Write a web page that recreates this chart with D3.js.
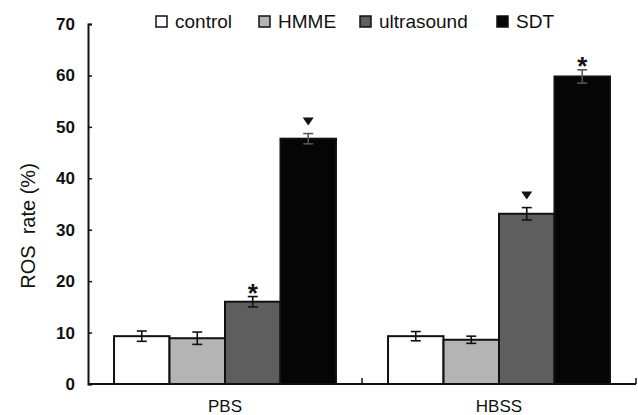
<!DOCTYPE html>
<html>
<head>
<meta charset="utf-8">
<script src="https://cdn.jsdelivr.net/npm/d3@7"></script>
<style>
  body { margin: 0; background: #fff; }
  text { font-family: "Liberation Sans", Arial, sans-serif; fill: #111; }
</style>
</head>
<body>
<div id="chart"></div>
<script>
const groups = ["PBS", "HBSS"];
const seriesNames = ["control", "HMME", "ultrasound", "SDT"];
const seriesColors = ["#ffffff", "#b4b4b4", "#5e5e5e", "#050505"];
const pbsValues = [9.3, 8.9, 16.0, 47.7];
const pbsErrors = [1.0, 1.2, 1.0, 1.0];
const hbssValues = [9.3, 8.6, 33.1, 59.8];
const hbssErrors = [0.9, 0.7, 1.2, 1.3];
const pbsMarks = ["", "", "*", "tri"];
const hbssMarks = ["", "", "tri", "*"];
const yTicks = [0, 10, 20, 30, 40, 50, 60, 70];

const data = groups.map((g, gi) => ({
  group: g,
  items: seriesNames.map((s, si) => ({
    name: s,
    value: gi === 0 ? pbsValues[si] : hbssValues[si],
    err: gi === 0 ? pbsErrors[si] : hbssErrors[si],
    mark: gi === 0 ? pbsMarks[si] : hbssMarks[si],
    color: seriesColors[si]
  }))
}));

const width = 638, height = 415;
const margin = {top: 24, right: 2, bottom: 31, left: 88};

const svg = d3.select("#chart").append("svg")
  .attr("width", width)
  .attr("height", height);

const g = svg.append("g")
  .attr("transform", "translate(" + margin.left + "," + margin.top + ")");

const w = width - margin.left - margin.right;
const h = height - margin.top - margin.bottom;

const x0 = d3.scaleBand().domain(groups).range([0, w]).paddingInner(0.19).paddingOuter(0.095);
const x1 = d3.scaleBand().domain(seriesNames).range([0, x0.bandwidth()]);
const y = d3.scaleLinear().domain([0, 70]).range([h, 0]);

// bars
const grp = g.selectAll(".grp")
  .data(data)
  .enter().append("g")
  .attr("class", "grp")
  .attr("transform", d => "translate(" + x0(d.group) + ",0)");

grp.selectAll("rect")
  .data(d => d.items)
  .enter().append("rect")
  .attr("x", d => x1(d.name))
  .attr("y", d => y(d.value))
  .attr("width", x1.bandwidth())
  .attr("height", d => h - y(d.value))
  .attr("fill", d => d.color)
  .attr("stroke", "#111")
  .attr("stroke-width", 2);

// error bars
const eb = grp.selectAll(".err")
  .data(d => d.items)
  .enter().append("g")
  .attr("class", "err")
  .attr("stroke", d => d.name === "SDT" ? "#555" : "#111")
  .attr("stroke-width", 1.6);

const cx = d => x1(d.name) + x1.bandwidth() / 2;
eb.append("line")
  .attr("x1", cx).attr("x2", cx)
  .attr("y1", d => y(d.value + d.err)).attr("y2", d => y(d.value - d.err));
eb.append("line")
  .attr("x1", d => cx(d) - 5).attr("x2", d => cx(d) + 5)
  .attr("y1", d => y(d.value + d.err)).attr("y2", d => y(d.value + d.err));
eb.append("line")
  .attr("x1", d => cx(d) - 5).attr("x2", d => cx(d) + 5)
  .attr("y1", d => y(d.value - d.err)).attr("y2", d => y(d.value - d.err));

// significance marks
grp.selectAll(".star")
  .data(d => d.items.filter(i => i.mark === "*"))
  .enter().append("text")
  .attr("x", cx)
  .attr("y", d => y(d.value + d.err) + 5)
  .attr("text-anchor", "middle")
  .attr("font-size", 26)
  .style("font-weight", "bold")
  .text("*");

grp.selectAll(".tri")
  .data(d => d.items.filter(i => i.mark === "tri"))
  .enter().append("path")
  .attr("d", d => {
    const c = cx(d), t = y(d.value + d.err) - 16;
    return "M" + (c - 5.5) + "," + t + "L" + (c + 5.5) + "," + t + "L" + c + "," + (t + 8) + "Z";
  })
  .attr("fill", "#111");

// axes
const yAxis = g.append("g")
  .call(d3.axisLeft(y).tickValues(yTicks).tickSize(-4).tickPadding(13));
yAxis.select(".domain").attr("stroke", "#111").attr("stroke-width", 2);
yAxis.selectAll(".tick line").attr("stroke", "#111").attr("stroke-width", 1.5);
yAxis.selectAll("text").attr("font-size", 17).style("font-weight", "bold").attr("fill", "#222");

const xAxis = g.append("g")
  .attr("transform", "translate(0," + h + ")");
xAxis.append("line")
  .attr("x1", 0).attr("x2", w)
  .attr("stroke", "#111").attr("stroke-width", 2);
xAxis.selectAll(".sep")
  .data(groups)
  .enter().append("line")
  .attr("x1", d => x0(d) + x0.bandwidth() + x0.step() * x0.paddingInner() / 2)
  .attr("x2", d => x0(d) + x0.bandwidth() + x0.step() * x0.paddingInner() / 2)
  .attr("y1", 0).attr("y2", -6)
  .attr("stroke", "#111").attr("stroke-width", 1.5);
xAxis.selectAll(".lbl")
  .data(groups)
  .enter().append("text")
  .attr("x", d => x0(d) + x0.bandwidth() / 2)
  .attr("y", 28)
  .attr("text-anchor", "middle")
  .attr("font-size", 17)
  .text(d => d);

// y label
svg.append("text")
  .attr("transform", "translate(35," + (margin.top + h / 2 + 22) + ") rotate(-90)")
  .attr("text-anchor", "middle")
  .attr("font-size", 20)
  .attr("xml:space", "preserve")
  .text("ROS  rate (%)");

// legend
const legendX = [156, 259, 360, 497];
const legend = svg.selectAll(".legend")
  .data(seriesNames)
  .enter().append("g")
  .attr("class", "legend")
  .attr("transform", (d, i) => "translate(" + legendX[i] + ",16)");
legend.append("rect")
  .attr("width", 11).attr("height", 11)
  .attr("fill", (d, i) => seriesColors[i])
  .attr("stroke", "#111").attr("stroke-width", 1.5);
legend.append("text")
  .attr("x", 19).attr("y", 12)
  .attr("font-size", 19)
  .text(d => d);
</script>
</body>
</html>
